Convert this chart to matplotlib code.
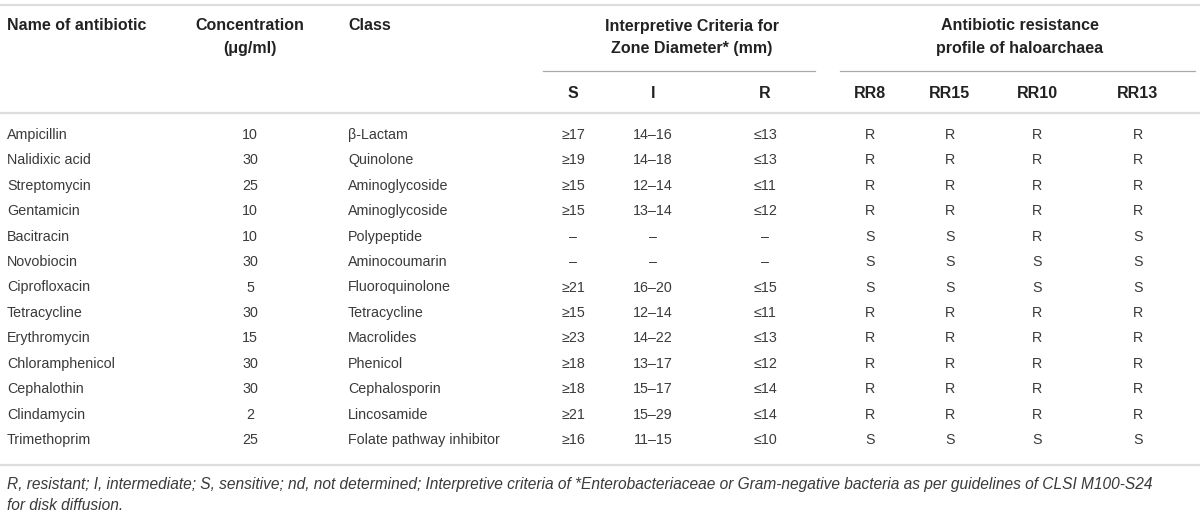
import matplotlib
matplotlib.use('Agg')
import matplotlib.pyplot as plt

# table content
names = ['Ampicillin', 'Nalidixic acid', 'Streptomycin', 'Gentamicin', 'Bacitracin',
         'Novobiocin', 'Ciprofloxacin', 'Tetracycline', 'Erythromycin',
         'Chloramphenicol', 'Cephalothin', 'Clindamycin', 'Trimethoprim']
conc = ['10', '30', '25', '10', '10', '30', '5', '30', '15', '30', '30', '2', '25']
classes = ['\u03b2-Lactam', 'Quinolone', 'Aminoglycoside', 'Aminoglycoside', 'Polypeptide',
           'Aminocoumarin', 'Fluoroquinolone', 'Tetracycline', 'Macrolides', 'Phenicol',
           'Cephalosporin', 'Lincosamide', 'Folate pathway inhibitor']
zone_s = ['\u226517', '\u226519', '\u226515', '\u226515', '\u2013', '\u2013', '\u226521',
          '\u226515', '\u226523', '\u226518', '\u226518', '\u226521', '\u226516']
zone_i = ['14\u201316', '14\u201318', '12\u201314', '13\u201314', '\u2013', '\u2013', '16\u201320',
          '12\u201314', '14\u201322', '13\u201317', '15\u201317', '15\u201329', '11\u201315']
zone_r = ['\u226413', '\u226413', '\u226411', '\u226412', '\u2013', '\u2013', '\u226415',
          '\u226411', '\u226413', '\u226412', '\u226414', '\u226414', '\u226410']
rr8 = ['R', 'R', 'R', 'R', 'S', 'S', 'S', 'R', 'R', 'R', 'R', 'R', 'S']
rr15 = ['R', 'R', 'R', 'R', 'S', 'S', 'S', 'R', 'R', 'R', 'R', 'R', 'S']
rr10 = ['R', 'R', 'R', 'R', 'R', 'S', 'S', 'R', 'R', 'R', 'R', 'R', 'S']
rr13 = ['R', 'R', 'R', 'R', 'S', 'S', 'S', 'R', 'R', 'R', 'R', 'R', 'S']

footnote = ['R, resistant; I, intermediate; S, sensitive; nd, not determined; Interpretive criteria '
            'of *Enterobacteriaceae or Gram-negative bacteria as per guidelines of CLSI M100-S24',
            'for disk diffusion.']

plt.rcParams['font.family'] = ['Liberation Sans', 'DejaVu Sans']

fig = plt.figure(figsize=(12, 5.23), dpi=100)
ax = fig.add_axes([0, 0, 1, 1])
ax.set_xlim(0, 1200)
ax.set_ylim(523, 0)
ax.axis('off')

hdr = dict(fontsize=11.5, fontweight='bold', color='#222222', va='center')
body = dict(fontsize=10.3, color='#3a3a3a', va='center')

# column x positions and alignments
cols = [(names, 7, 'left'), (conc, 250, 'center'), (classes, 348, 'left'),
        (zone_s, 573, 'center'), (zone_i, 653, 'center'), (zone_r, 765, 'center'),
        (rr8, 870, 'center'), (rr15, 950, 'center'), (rr10, 1037, 'center'),
        (rr13, 1138, 'center')]

# rules
ax.plot([0, 1200], [5, 5], color='#dddddd', lw=1.6)
ax.plot([0, 1200], [113, 113], color='#dddddd', lw=1.6)
ax.plot([0, 1200], [465, 465], color='#dddddd', lw=1.6)
ax.plot([543, 815], [71, 71], color='#aaaaaa', lw=0.9)
ax.plot([840, 1195], [71, 71], color='#aaaaaa', lw=0.9)

# header
ax.text(7, 26, 'Name of antibiotic', ha='left', **hdr)
ax.text(250, 26, 'Concentration', ha='center', **hdr)
ax.text(250, 49, '(\u03bcg/ml)', ha='center', **hdr)
ax.text(348, 26, 'Class', ha='left', **hdr)
ax.text(692, 26, 'Interpretive Criteria for', ha='center', **hdr)
ax.text(692, 49, 'Zone Diameter* (mm)', ha='center', **hdr)
ax.text(1020, 26, 'Antibiotic resistance', ha='center', **hdr)
ax.text(1020, 49, 'profile of haloarchaea', ha='center', **hdr)
sub = ['S', 'I', 'R', 'RR8', 'RR15', 'RR10', 'RR13']
for lab, (_, x, _) in zip(sub, cols[3:]):
    ax.text(x, 93, lab, ha='center', **hdr)

# body rows
y0, dy = 135, (440 - 135) / 12
for i in range(len(names)):
    y = y0 + i * dy
    for vals, x, ha in cols:
        ax.text(x, y, vals[i], ha=ha, **body)

for k, line in enumerate(footnote):
    ax.text(7, 485 + k * 21, line, ha='left', va='center', fontsize=11.2,
            style='italic', color='#3a3a3a')

fig.savefig('out.png', dpi=100)
